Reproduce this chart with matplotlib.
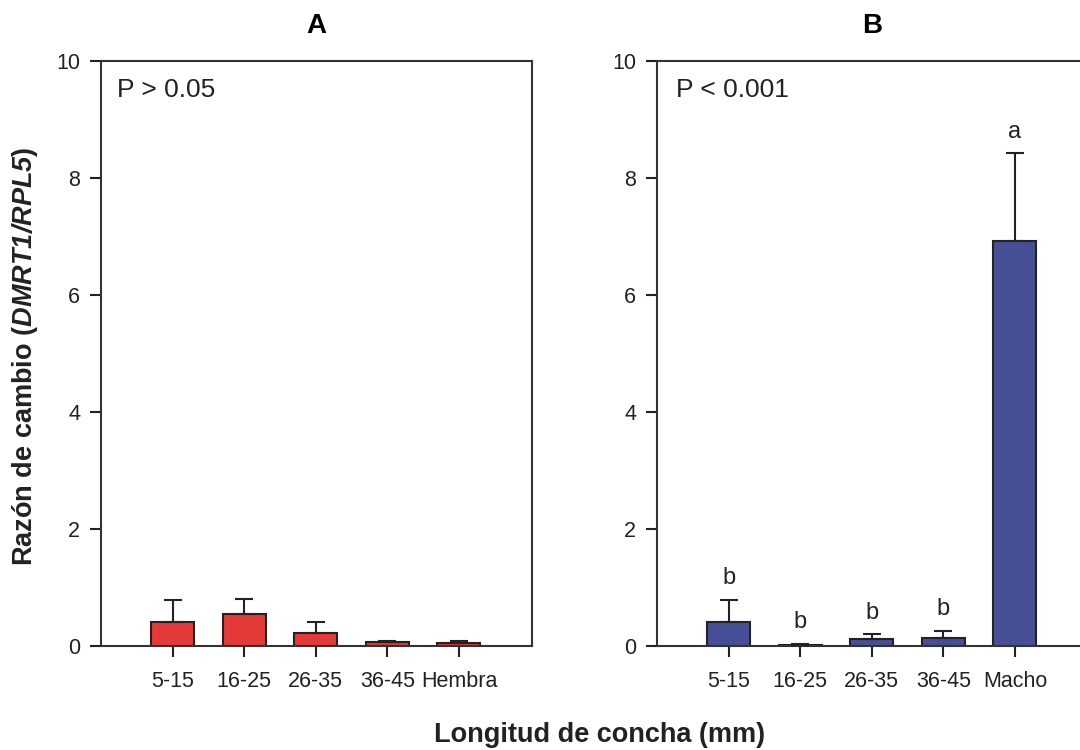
import matplotlib
matplotlib.use("Agg")
import matplotlib.pyplot as plt

plt.rcParams['font.family'] = ['Liberation Sans', 'DejaVu Sans']
plt.rcParams['mathtext.fontset'] = 'custom'
plt.rcParams['mathtext.rm'] = 'Liberation Sans'
plt.rcParams['mathtext.bf'] = 'Liberation Sans:bold'
plt.rcParams['mathtext.it'] = 'Liberation Sans:italic'
plt.rcParams['mathtext.bfit'] = 'Liberation Sans:bold:italic'

# Panel A: hembras por talla
cats_a = ["5-15", "16-25", "26-35", "36-45", "Hembra"]
mean_a = [0.41, 0.54, 0.22, 0.07, 0.05]
err_a = [0.38, 0.26, 0.19, 0.02, 0.03]

# Panel B: machos por talla
cats_b = ["5-15", "16-25", "26-35", "36-45", "Macho"]
mean_b = [0.41, 0.02, 0.12, 0.14, 6.92]
err_b = [0.38, 0.01, 0.08, 0.12, 1.50]
letters_b = ["b", "b", "b", "b", "a"]

RED = "#e53a3a"
BLUE = "#464f96"
EDGE = "#222222"

fig = plt.figure(figsize=(10.8, 7.5), dpi=100)
ax_a = fig.add_axes([101 / 1080, 104 / 750, 431 / 1080, 585 / 750])
ax_b = fig.add_axes([657 / 1080, 104 / 750, 431 / 1080, 585 / 750])


def draw_panel(ax, cats, means, errs, color, title, ptext, px):
    x = list(range(len(cats)))
    ax.bar(x, means, width=0.6, color=color, edgecolor=EDGE, linewidth=1.5, zorder=2)
    ax.errorbar(x, means, yerr=[[0] * len(errs), errs], fmt="none", ecolor=EDGE,
                elinewidth=1.5, capsize=6.5, capthick=1.5, zorder=3)
    ax.set_xlim(-1.0, 5.02)
    ax.set_ylim(0, 10)
    ax.set_xticks(x)
    ax.set_xticklabels(cats)
    ax.set_yticks(range(0, 11, 2))
    ax.tick_params(axis="both", direction="out", length=8, width=1.5, color=EDGE,
                   labelsize=15.5, labelcolor="#222222", pad=7)
    ax.tick_params(axis="x", pad=10)
    for s in ax.spines.values():
        s.set_linewidth(1.5)
        s.set_color("#333333")
    ax.set_title(title, fontsize=20, fontweight="bold", pad=20)
    ax.text(px, 9.5, ptext, fontsize=19, va="center", ha="left", color="#222222")
    return x


draw_panel(ax_a, cats_a, mean_a, err_a, RED, "A", "P > 0.05", -0.78)
xb = draw_panel(ax_b, cats_b, mean_b, err_b, BLUE, "B", "P < 0.001", -0.73)

# letras de significancia sobre cada barra
for xi, m, e, lab in zip(xb, mean_b, err_b, letters_b):
    ax_b.text(xi, m + e + 0.27, lab, fontsize=17, ha="center", va="baseline",
              color="#222222")

fig.text(0.023, 0.525, "Razón de cambio ($\\bfit{DMRT1/RPL5}$)", rotation=90,
         fontsize=19.5, fontweight="bold", ha="center", va="center", color="#222222")
fig.text(0.555, 0.02, "Longitud de concha (mm)", fontsize=19.5, fontweight="bold",
         ha="center", va="center", color="#222222")

fig.savefig("out.png", dpi=100)
